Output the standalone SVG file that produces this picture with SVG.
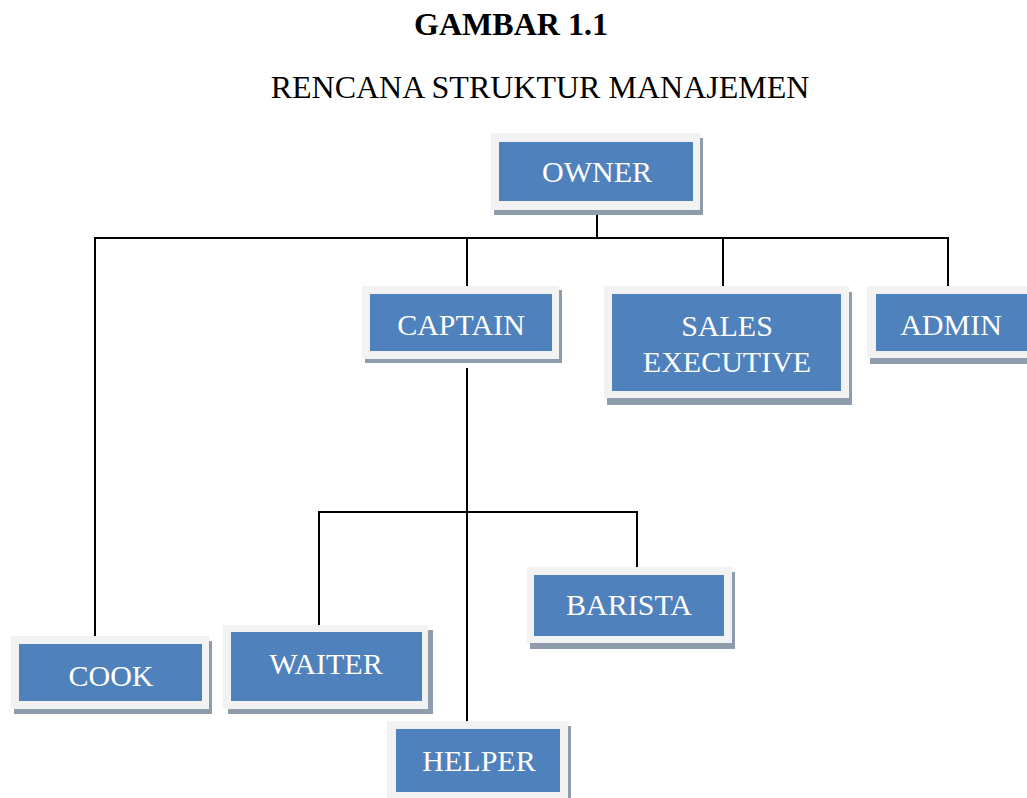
<svg xmlns="http://www.w3.org/2000/svg" width="1027" height="798" viewBox="0 0 1027 798">
<style>
.sh{fill:#8f9cab}
.fr{fill:#f2f2f2}
.in{fill:#4f81bd}
.lb{font-family:"Liberation Serif","DejaVu Serif",serif;font-size:30px;fill:#ffffff;text-anchor:middle}
.ttl{font-family:"Liberation Serif","Times New Roman",serif;font-size:32px;fill:#000;text-anchor:middle}
.cn{stroke:#000;stroke-width:2;fill:none}
</style>
<rect width="1027" height="798" fill="#ffffff"/>
<text class="ttl" x="511" y="35" font-weight="bold">GAMBAR 1.1</text>
<text class="ttl" x="540" y="98">RENCANA STRUKTUR MANAJEMEN</text>
<g id="connectors">
<path class="cn" d="M597 210V237M95 238H948M95 237V638M467 237V288M723 237V286M948 237V286"/>
<path class="cn" d="M467 368V721M319 512H637M319 511V627M637 511V567"/>
</g>
<g id="owner">
<rect class="sh" x="494" y="138" width="209" height="77"/>
<rect class="fr" x="491" y="133" width="209" height="77"/>
<rect class="in" x="499" y="142" width="194" height="59"/>
<text class="lb" x="597" y="182">OWNER</text>
</g>
<g id="captain">
<rect class="sh" x="365" y="290" width="197" height="73"/>
<rect class="fr" x="362" y="286" width="197" height="73"/>
<rect class="in" x="370" y="294" width="182" height="57"/>
<text class="lb" x="461" y="335">CAPTAIN</text>
</g>
<g id="sales">
<rect class="sh" x="607" y="292" width="245" height="113"/>
<rect class="fr" x="604" y="286" width="245" height="112"/>
<rect class="in" x="612" y="294" width="229" height="97"/>
<text class="lb" x="727" y="336">SALES</text>
<text class="lb" x="727" y="372">EXECUTIVE</text>
</g>
<g id="admin">
<rect class="sh" x="870" y="292" width="160" height="72"/>
<rect class="fr" x="867" y="286" width="160" height="72"/>
<rect class="in" x="876" y="294" width="151" height="57"/>
<text class="lb" x="951" y="335">ADMIN</text>
</g>
<g id="cook">
<rect class="sh" x="14" y="641" width="198" height="73"/>
<rect class="fr" x="11" y="636" width="198" height="73"/>
<rect class="in" x="19" y="644" width="183" height="57"/>
<text class="lb" x="111" y="686">COOK</text>
</g>
<g id="waiter">
<rect class="sh" x="228" y="630" width="205" height="84"/>
<rect class="fr" x="223" y="625" width="205" height="84"/>
<rect class="in" x="231" y="632" width="191" height="69"/>
<text class="lb" x="326" y="674">WAITER</text>
</g>
<g id="barista">
<rect class="sh" x="530" y="572" width="205" height="77"/>
<rect class="fr" x="527" y="567" width="205" height="76"/>
<rect class="in" x="534" y="575" width="190" height="61"/>
<text class="lb" x="629" y="615">BARISTA</text>
</g>
<g id="helper">
<rect class="sh" x="390" y="726" width="181" height="80"/>
<rect class="fr" x="387" y="721" width="181" height="80"/>
<rect class="in" x="396" y="729" width="164" height="63"/>
<text class="lb" x="479" y="771">HELPER</text>
</g>
</svg>
